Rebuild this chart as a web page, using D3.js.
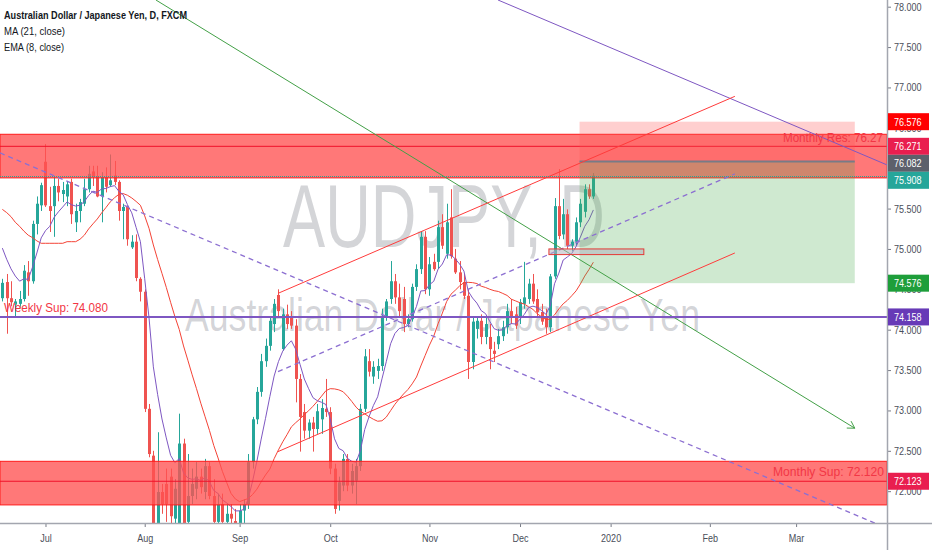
<!DOCTYPE html>
<html><head><meta charset="utf-8">
<script src="https://cdn.jsdelivr.net/npm/d3@7"></script>
<style>
html,body{margin:0;padding:0;background:#fff;}
svg{display:block;}
text{font-family:"Liberation Sans",Arial,sans-serif;}
</style></head><body>
<svg id="c" width="932" height="550"></svg>
<script>
// ---------- DATA ----------
const firstBar = -10; // bar index of first candle (Jul 1 2019 = 0)
const open = [
74.39,74.59,74.39,74.31,74.32,74.38,74.71,74.60,75.31,75.54,
76.08,75.53,75.53,75.78,75.68,75.65,75.83,75.33,75.47,75.56,
75.74,75.96,75.90,75.65,75.89,75.79,75.91,75.83,75.47,75.52,
75.02,75.09,74.63,74.47,73.02,72.44,71.53,71.99,72.09,72.18,
71.66,71.53,72.59,71.62,71.94,72.03,72.18,71.99,72.31,71.94,
71.62,71.84,71.62,71.72,71.63,71.56,71.76,71.84,72.36,72.89,
73.23,73.61,73.80,74.07,74.43,73.76,74.19,74.16,74.05,73.39,
72.98,72.75,72.85,72.77,72.89,73.02,72.98,72.28,71.88,72.07,
72.40,72.07,72.13,72.31,73.02,73.61,73.42,73.49,73.55,74.17,
74.38,74.60,74.40,74.38,74.07,74.13,74.53,74.75,75.15,74.50,
74.84,74.84,75.27,74.94,75.39,74.88,74.71,74.59,74.42,73.60,
74.01,74.11,73.91,73.91,73.74,73.82,73.92,74.03,74.23,74.19,
74.16,74.32,74.38,74.57,74.38,74.22,74.16,74.03,74.66,75.53,
75.18,75.43,75.04,75.09,75.33,75.46,75.74,75.65];
const high = [
74.63,74.69,74.60,74.38,74.48,74.80,74.85,75.35,75.65,75.82,
76.30,75.77,75.90,75.87,75.83,75.84,75.87,75.56,75.62,75.87,
76.03,76.03,76.03,75.95,76.01,76.17,76.09,75.85,75.56,75.54,
75.17,75.18,74.65,74.50,73.08,72.50,72.73,72.09,72.28,72.28,
72.15,72.96,72.65,72.46,72.28,72.36,72.28,72.40,72.36,72.15,
71.97,71.97,71.84,71.84,71.78,71.84,71.90,72.46,72.92,73.29,
73.70,73.89,74.16,74.38,74.50,74.26,74.31,74.23,74.13,73.45,
73.08,72.89,72.92,73.08,73.14,73.39,73.04,72.34,72.18,72.46,
72.46,72.34,72.40,73.08,73.76,73.76,73.61,73.64,74.26,74.38,
74.85,74.69,74.57,74.53,74.19,74.57,74.81,75.22,75.22,74.90,
74.94,75.35,75.43,75.56,75.74,75.00,74.85,74.69,74.50,74.16,
74.16,74.19,74.16,74.07,73.85,74.01,74.11,74.32,74.38,74.28,
74.38,74.84,74.63,74.69,74.50,74.32,74.26,74.69,75.63,75.99,
75.62,75.49,75.12,75.39,75.62,75.80,75.80,75.94];
const low = [
74.35,73.95,74.29,74.16,74.27,74.35,74.42,74.57,75.18,75.47,
75.52,75.21,75.15,75.59,75.58,75.53,75.31,75.21,75.33,75.53,
75.70,75.78,75.64,75.33,75.70,75.77,75.79,75.35,75.12,75.04,
75.00,74.60,74.35,72.98,72.42,71.16,71.35,71.72,71.62,71.53,
71.53,71.47,71.41,71.53,71.84,71.90,71.97,71.90,71.90,71.47,
71.53,71.47,71.47,71.53,71.47,71.51,71.60,71.78,72.28,72.83,
73.17,73.54,73.74,73.97,74.16,73.74,74.01,74.01,73.10,72.49,
72.65,72.65,72.49,72.71,72.71,72.92,72.21,71.72,71.76,72.00,
72.00,71.97,71.84,72.25,72.98,73.42,73.33,73.39,73.49,74.11,
74.32,74.32,74.16,73.97,74.03,74.10,74.48,74.69,74.44,74.42,
74.73,74.75,75.00,74.88,74.88,74.69,74.50,74.38,73.39,73.51,
73.89,73.82,73.82,73.51,73.60,73.76,73.86,73.95,74.07,74.01,
74.07,74.26,74.32,74.32,74.16,74.06,73.95,73.97,74.63,75.12,
75.12,75.00,74.97,75.04,75.27,75.39,75.62,75.62];
const close = [
74.58,74.39,74.34,74.35,74.38,74.73,74.60,75.31,75.56,75.79,
75.54,75.47,75.78,75.70,75.73,75.80,75.43,75.47,75.58,75.74,
75.93,75.90,75.65,75.89,75.77,75.85,75.83,75.47,75.52,75.12,
75.09,74.64,74.47,73.02,72.46,71.41,71.99,71.84,71.84,71.69,
72.03,72.59,71.60,71.94,72.09,72.18,72.05,72.31,71.94,71.62,
71.84,71.62,71.72,71.66,71.56,71.76,71.84,72.36,72.89,73.23,
73.61,73.80,74.11,74.32,74.23,74.19,74.07,74.05,73.39,72.92,
72.75,72.85,72.77,72.99,73.03,72.98,72.28,71.78,72.11,72.40,
72.07,72.25,72.31,73.02,73.67,73.48,73.54,73.55,74.17,74.35,
74.60,74.40,74.23,74.07,74.13,74.53,74.75,75.15,74.50,74.81,
74.75,75.27,75.04,75.33,74.91,74.71,74.59,74.42,73.60,74.10,
74.11,73.91,74.07,73.76,73.70,73.92,74.03,74.23,74.16,74.05,
74.34,74.40,74.57,74.35,74.22,74.10,74.03,74.66,75.53,75.16,
75.43,75.04,75.09,75.33,75.56,75.74,75.65,75.908];
// MA(21) values for the first 20 bars (before a full window exists)
const maLead = [75.49,75.45,75.40,75.33,75.28,75.22,75.17,75.14,75.10,75.07,
                75.07,75.07,75.07,75.07,75.07,75.09,75.09,75.09,75.12,75.17];
const emaSeed = 75.01; // EMA(8) value read at the first bar

const priceTicks = [72,72.5,73,73.5,74,74.5,75,75.5,76,76.5,77,77.5,78];
const hiddenTickLabels = [76]; // fully covered by the price tags in the reference
const monthLabels = ['Jul','Aug','Sep','Oct','Nov','Dec','2020','Feb','Mar'];
const monthBars  = [0,23,45,66,89,110,131,154,174];

// drawings, in [bar, price]
const greenArrow    = [[25.6,78.083],[187.6,72.78]];
const purpleLine    = [[104.9,78.083],[195.1,76.04]];
const dashedDown    = [[-10.55,76.19],[195.1,71.54]];
const dashedUp      = [[53.9,73.48],[159.8,75.93]];
const channelTop    = [[53.9,74.45],[159.8,76.89]];
const channelBottom = [[53.9,72.49],[159.8,74.95]];
const smallBox      = [[116.7,75.00],[138.7,74.93]];
const resZone = [76.42,75.88]; const resLevel = 76.271;
const supZone = [72.37,71.83]; const supLevel = 72.123;
const weeklySup = 74.158;
const shortFrom = 123.8, shortTo = 187.6, stopPrice = 76.576, entryPrice = 76.082, targetPrice = 74.576;
const lastPrice = 75.908;
const resText = 'Monthly Res: 76.27', supText = 'Monthly Sup: 72.120', weeklyText = 'Weekly Sup: 74.080';

// ---------- CHART ----------
const svg = d3.select('#c');
const PR = 887, PB = 523;
const x = d3.scaleLinear().domain([-10.547, 195.07]).range([0, PR]);
const y = d3.scaleLinear().domain([71.606, 78.083]).range([PB, 0]);
const NARROW = 0.82;
function condense(sel, f){ sel.each(function(){ const w=this.getComputedTextLength(); d3.select(this).attr('textLength',w*f).attr('lengthAdjust','spacingAndGlyphs'); }); }

svg.append('rect').attr('width',932).attr('height',550).attr('fill','#fff');
svg.append('defs').append('clipPath').attr('id','plot').append('rect').attr('width',PR).attr('height',PB);
const plot = svg.append('g').attr('clip-path','url(#plot)');

// watermark
plot.append('text').attr('x',283).attr('y',247).attr('font-size',89)
  .attr('textLength',322).attr('lengthAdjust','spacingAndGlyphs')
  .attr('fill','rgba(120,123,134,0.32)').text('AUDJPY, D');
plot.append('text').attr('x',185).attr('y',331).attr('font-size',46)
  .attr('textLength',515).attr('lengthAdjust','spacingAndGlyphs')
  .attr('fill','rgba(120,123,134,0.32)').text('Australian Dollar / Japanese Yen');

// candles
const bars = close.map((c,k)=>({i:firstBar+k,o:open[k],h:high[k],l:low[k],c:c}));
const UP='#26a69a', DN='#ef5350';
const cg = plot.append('g');
cg.selectAll('line').data(bars).join('line')
  .attr('x1',d=>Math.round(x(d.i))+0.5).attr('x2',d=>Math.round(x(d.i))+0.5)
  .attr('y1',d=>y(d.h)).attr('y2',d=>y(d.l))
  .attr('stroke',d=>d.c>=d.o?UP:DN).attr('stroke-width',1);
cg.selectAll('rect').data(bars).join('rect')
  .attr('x',d=>Math.round(x(d.i))-1).attr('width',3)
  .attr('y',d=>y(Math.max(d.o,d.c)))
  .attr('height',d=>Math.max(1,Math.abs(y(d.o)-y(d.c))))
  .attr('fill',d=>d.c>=d.o?UP:DN);

// indicators
const alpha = 2/9; let e = emaSeed;
const ema = bars.map((b,k)=>{ if(k>0) e = alpha*b.c+(1-alpha)*e; return {i:b.i,v:e}; });
const ma = bars.map((b,k)=>({i:b.i, v: k<20 ? maLead[k] : d3.mean(close.slice(k-20,k+1))}));
const ln = d3.line().x(d=>x(d.i)).y(d=>y(d.v));
plot.append('path').datum(ma).attr('d',ln).attr('fill','none').attr('stroke','#f44336').attr('stroke-width',1);
plot.append('path').datum(ema).attr('d',ln).attr('fill','none').attr('stroke','#7e57c2').attr('stroke-width',1);

// drawings
const dg = plot.append('g');
function band(z, lvl){
  dg.append('rect').attr('x',0).attr('width',PR).attr('y',y(z[0])).attr('height',y(z[1])-y(z[0]))
    .attr('fill','rgba(255,82,82,0.78)').attr('stroke','#ff1a1a').attr('stroke-width',1);
  dg.append('line').attr('x1',0).attr('x2',PR).attr('y1',y(lvl)).attr('y2',y(lvl)).attr('stroke','#f0102a').attr('stroke-width',1);
}
band(resZone,resLevel); band(supZone,supLevel);

// short position tool
dg.append('rect').attr('x',x(shortFrom)).attr('width',x(shortTo)-x(shortFrom))
  .attr('y',y(stopPrice)).attr('height',y(entryPrice)-y(stopPrice)).attr('fill','rgba(255,82,82,0.28)');
dg.append('rect').attr('x',x(shortFrom)).attr('width',x(shortTo)-x(shortFrom))
  .attr('y',y(entryPrice)).attr('height',y(targetPrice)-y(entryPrice)).attr('fill','rgba(76,175,80,0.27)');
dg.append('line').attr('x1',x(shortFrom)).attr('x2',x(shortTo)).attr('y1',y(entryPrice)).attr('y2',y(entryPrice))
  .attr('stroke','#787b86').attr('stroke-width',2);

function seg(p, color, w, dash){
  const l = dg.append('line').attr('x1',x(p[0][0])).attr('y1',y(p[0][1])).attr('x2',x(p[1][0])).attr('y2',y(p[1][1]))
    .attr('stroke',color).attr('stroke-width',w);
  if(dash) l.attr('stroke-dasharray',dash);
  return l;
}
seg(greenArrow,'#43a047',1);
seg(purpleLine,'#7e57c2',1);
seg(dashedDown,'#8c6fd1',1.3,'5,4');
seg(dashedUp,'#8c6fd1',1.3,'5,4');
seg(channelTop,'#ff3b3b',1);
seg(channelBottom,'#ff3b3b',1);
{
  const x2=x(greenArrow[1][0]), y2=y(greenArrow[1][1]);
  const a=Math.atan2(y2-y(greenArrow[0][1]), x2-x(greenArrow[0][0]));
  const L=8;
  [a+Math.PI*0.83, a-Math.PI*0.83].forEach(t=>{
    dg.append('line').attr('x1',x2).attr('y1',y2).attr('x2',x2+L*Math.cos(t)).attr('y2',y2+L*Math.sin(t))
      .attr('stroke','#43a047').attr('stroke-width',1);
  });
}
dg.append('rect').attr('x',x(smallBox[0][0])).attr('y',y(smallBox[0][1]))
  .attr('width',x(smallBox[1][0])-x(smallBox[0][0])).attr('height',y(smallBox[1][1])-y(smallBox[0][1]))
  .attr('fill','rgba(178,181,190,0.55)').attr('stroke','#e53935').attr('stroke-width',1);
dg.append('line').attr('x1',0).attr('x2',PR).attr('y1',y(weeklySup)).attr('y2',y(weeklySup))
  .attr('stroke','#7e57c2').attr('stroke-width',2);
dg.append('line').attr('x1',0).attr('x2',PR).attr('y1',Math.round(y(lastPrice))+0.5).attr('y2',Math.round(y(lastPrice))+0.5)
  .attr('stroke','#26a69a').attr('stroke-width',1).attr('stroke-dasharray','1,1');

// drawing labels
dg.append('text').attr('x',4).attr('y',y(weeklySup)-5).attr('font-size',12.5).attr('fill','#f23645')
  .attr('textLength',104).attr('lengthAdjust','spacingAndGlyphs').text(weeklyText);
dg.append('text').attr('x',783).attr('y',y(resLevel)-4).attr('font-size',12.5).attr('fill','#f23645')
  .attr('textLength',100).attr('lengthAdjust','spacingAndGlyphs').text(resText);
dg.append('text').attr('x',773).attr('y',y(supLevel)-5).attr('font-size',12.5).attr('fill','#f23645')
  .attr('textLength',111).attr('lengthAdjust','spacingAndGlyphs').text(supText);

// legend
const lg = svg.append('g').attr('fill','#131722');
lg.append('text').attr('x',4).attr('y',19).attr('font-size',11).attr('font-weight',600)
  .attr('textLength',183).attr('lengthAdjust','spacingAndGlyphs').text('Australian Dollar / Japanese Yen, D, FXCM');
lg.append('text').attr('x',4).attr('y',35).attr('font-size',11).attr('textLength',61).attr('lengthAdjust','spacingAndGlyphs').text('MA (21, close)');
lg.append('text').attr('x',4).attr('y',51).attr('font-size',11).attr('textLength',60).attr('lengthAdjust','spacingAndGlyphs').text('EMA (8, close)');

// axes
const yAxis = d3.axisRight(y).tickValues(priceTicks)
  .tickFormat(d => hiddenTickLabels.includes(d) ? '' : d3.format('.3f')(d)).tickSize(4).tickPadding(3);
const ya = svg.append('g').attr('transform',`translate(${PR},0)`).call(yAxis);
ya.select('.domain').remove();
ya.selectAll('line').attr('stroke','#787b86');
ya.selectAll('text').attr('font-size',11).attr('fill','#4a4e59').style('font-family','"Liberation Sans",Arial,sans-serif');
condense(ya.selectAll('text').filter(function(){return this.textContent.length>0;}), NARROW);

const xAxis = d3.axisBottom(x).tickValues(monthBars).tickFormat((d,i)=>monthLabels[i]).tickSize(4).tickPadding(7);
const xa = svg.append('g').attr('transform',`translate(0,${PB})`).call(xAxis);
xa.select('.domain').remove();
xa.selectAll('line').attr('stroke','#787b86');
xa.selectAll('text').attr('font-size',11).attr('fill','#4a4e59').style('font-family','"Liberation Sans",Arial,sans-serif');
condense(xa.selectAll('text'), NARROW);

svg.append('line').attr('x1',0).attr('x2',932).attr('y1',PB+0.5).attr('y2',PB+0.5).attr('stroke','#a3a6af').attr('stroke-width',1.5);
svg.append('line').attr('x1',PR+0.5).attr('x2',PR+0.5).attr('y1',0).attr('y2',550).attr('stroke','#a3a6af').attr('stroke-width',1.5);

// price labels on axis
const tags = [
  {v:stopPrice,  c:'#ff0000'},
  {v:resLevel,   c:'#e91e4f'},
  {v:entryPrice, c:'#5d606b'},
  {v:lastPrice,  c:'#26a69a'},
  {v:targetPrice,c:'#1e9e3a'},
  {v:weeklySup,  c:'#673ab7'},
  {v:supLevel,   c:'#e91e4f'}
];
const TH = 17; let prevBottom = -1e9;
const tg = svg.append('g');
tags.sort((a,b)=>b.v-a.v).forEach(t=>{
  let cy = y(t.v);
  if (cy - TH/2 < prevBottom) cy = prevBottom + TH/2;
  prevBottom = cy + TH/2;
  tg.append('rect').attr('x',PR+1).attr('y',cy-TH/2).attr('width',41).attr('height',TH).attr('fill',t.c);
  tg.append('text').attr('x',PR+7).attr('y',cy+4).attr('font-size',11).attr('fill','#fff').text(d3.format('.3f')(t.v));
});
condense(tg.selectAll('text'), NARROW);
</script>
</body></html>
